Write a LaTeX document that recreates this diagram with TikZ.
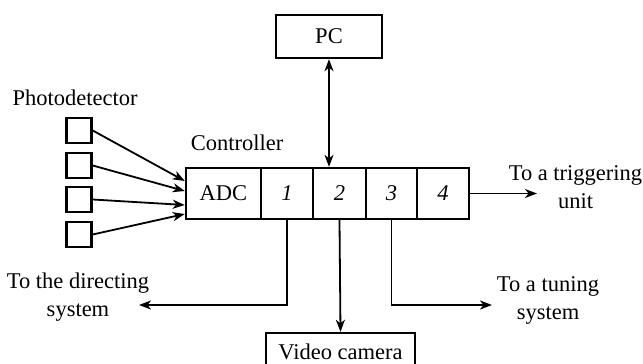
\documentclass[tikz,border=0pt]{standalone}
\usepackage{fontspec}
\setmainfont{Liberation Serif}
\usetikzlibrary{arrows.meta}
\begin{document}
\begin{tikzpicture}[x=1pt,y=-1pt,
  every node/.style={font=\fontsize{22.5}{28}\selectfont},
  box/.style={draw,line width=2.4pt,inner sep=0pt,minimum height=#1},
  box/.default=51pt,
  cell/.style={box,minimum width=#1},
  sensor/.style={draw,line width=2.4pt,inner sep=0pt,minimum width=25pt,minimum height=25pt},
  conn/.style={line width=1.8pt,-{Stealth[length=12pt,width=9pt,inset=3.5pt]}},
  biconn/.style={line width=1.8pt,{Stealth[length=12pt,width=9pt,inset=3.5pt]}-{Stealth[length=12pt,width=9pt,inset=3.5pt]}},
  lbl/.style={align=center,inner sep=0pt}]
\clip (0,0) rectangle (643,364);

% controller cells
\node[cell=75pt] (adc) at (223.5,193.5) {ADC};
\node[cell=52pt] (c1) at (287,193.5) {\itshape 1};
\node[cell=53pt] (c2) at (339.5,193.5) {\itshape 2};
\node[cell=51pt] (c3) at (391.5,193.5) {\itshape 3};
\node[cell=52pt] (c4) at (443,193.5) {\itshape 4};
\node[lbl] (ctrlname) at (237,143) {Controller};

% PC and video camera
\node[box=43pt,minimum width=106pt] (pc) at (329,36.5) {PC};
\node[box=37pt,minimum width=149pt] (vc) at (340.5,351.5) {Video camera};

% photodetector array
\node[lbl] (pdname) at (75,98) {Photodetector};
\node[sensor] (p1) at (79,130.5) {};
\node[sensor] (p2) at (79,165.5) {};
\node[sensor] (p3) at (79,199.5) {};
\node[sensor] (p4) at (79,234.5) {};
\coordinate (a1) at ([yshift=12.5pt]adc.west);
\coordinate (a2) at ([yshift=2.5pt]adc.west);
\coordinate (a3) at ([yshift=-11.5pt]adc.west);
\coordinate (a4) at ([yshift=-20.5pt]adc.west);
\draw[conn] (p1.east) -- (a1);
\draw[conn] (p2.east) -- (a2);
\draw[conn] (p3.east) -- (a3);
\draw[conn] (p4.east) -- (a4);

% PC link
\draw[biconn] (pc.south) -- (pc.south |- c2.north);

% outputs
\coordinate (trig) at (537,193.5);
\coordinate (dirend) at (139,305);
\coordinate (tunend) at (492,305);
\draw[conn] (c4.east) -- (trig);
\draw[conn] (c1.south) |- (dirend);
\draw[conn] (c3.south) |- (tunend);
\draw[conn] (c2.south) -- (vc.north);

% output labels
\node[lbl] (trigname) at (575.5,187) {To a triggering\\unit};
\node[lbl] (dirname) at (78,297) {To the directing\\system};
\node[lbl] (tunname) at (548,300) {To a tuning\\system};
\end{tikzpicture}
\end{document}
